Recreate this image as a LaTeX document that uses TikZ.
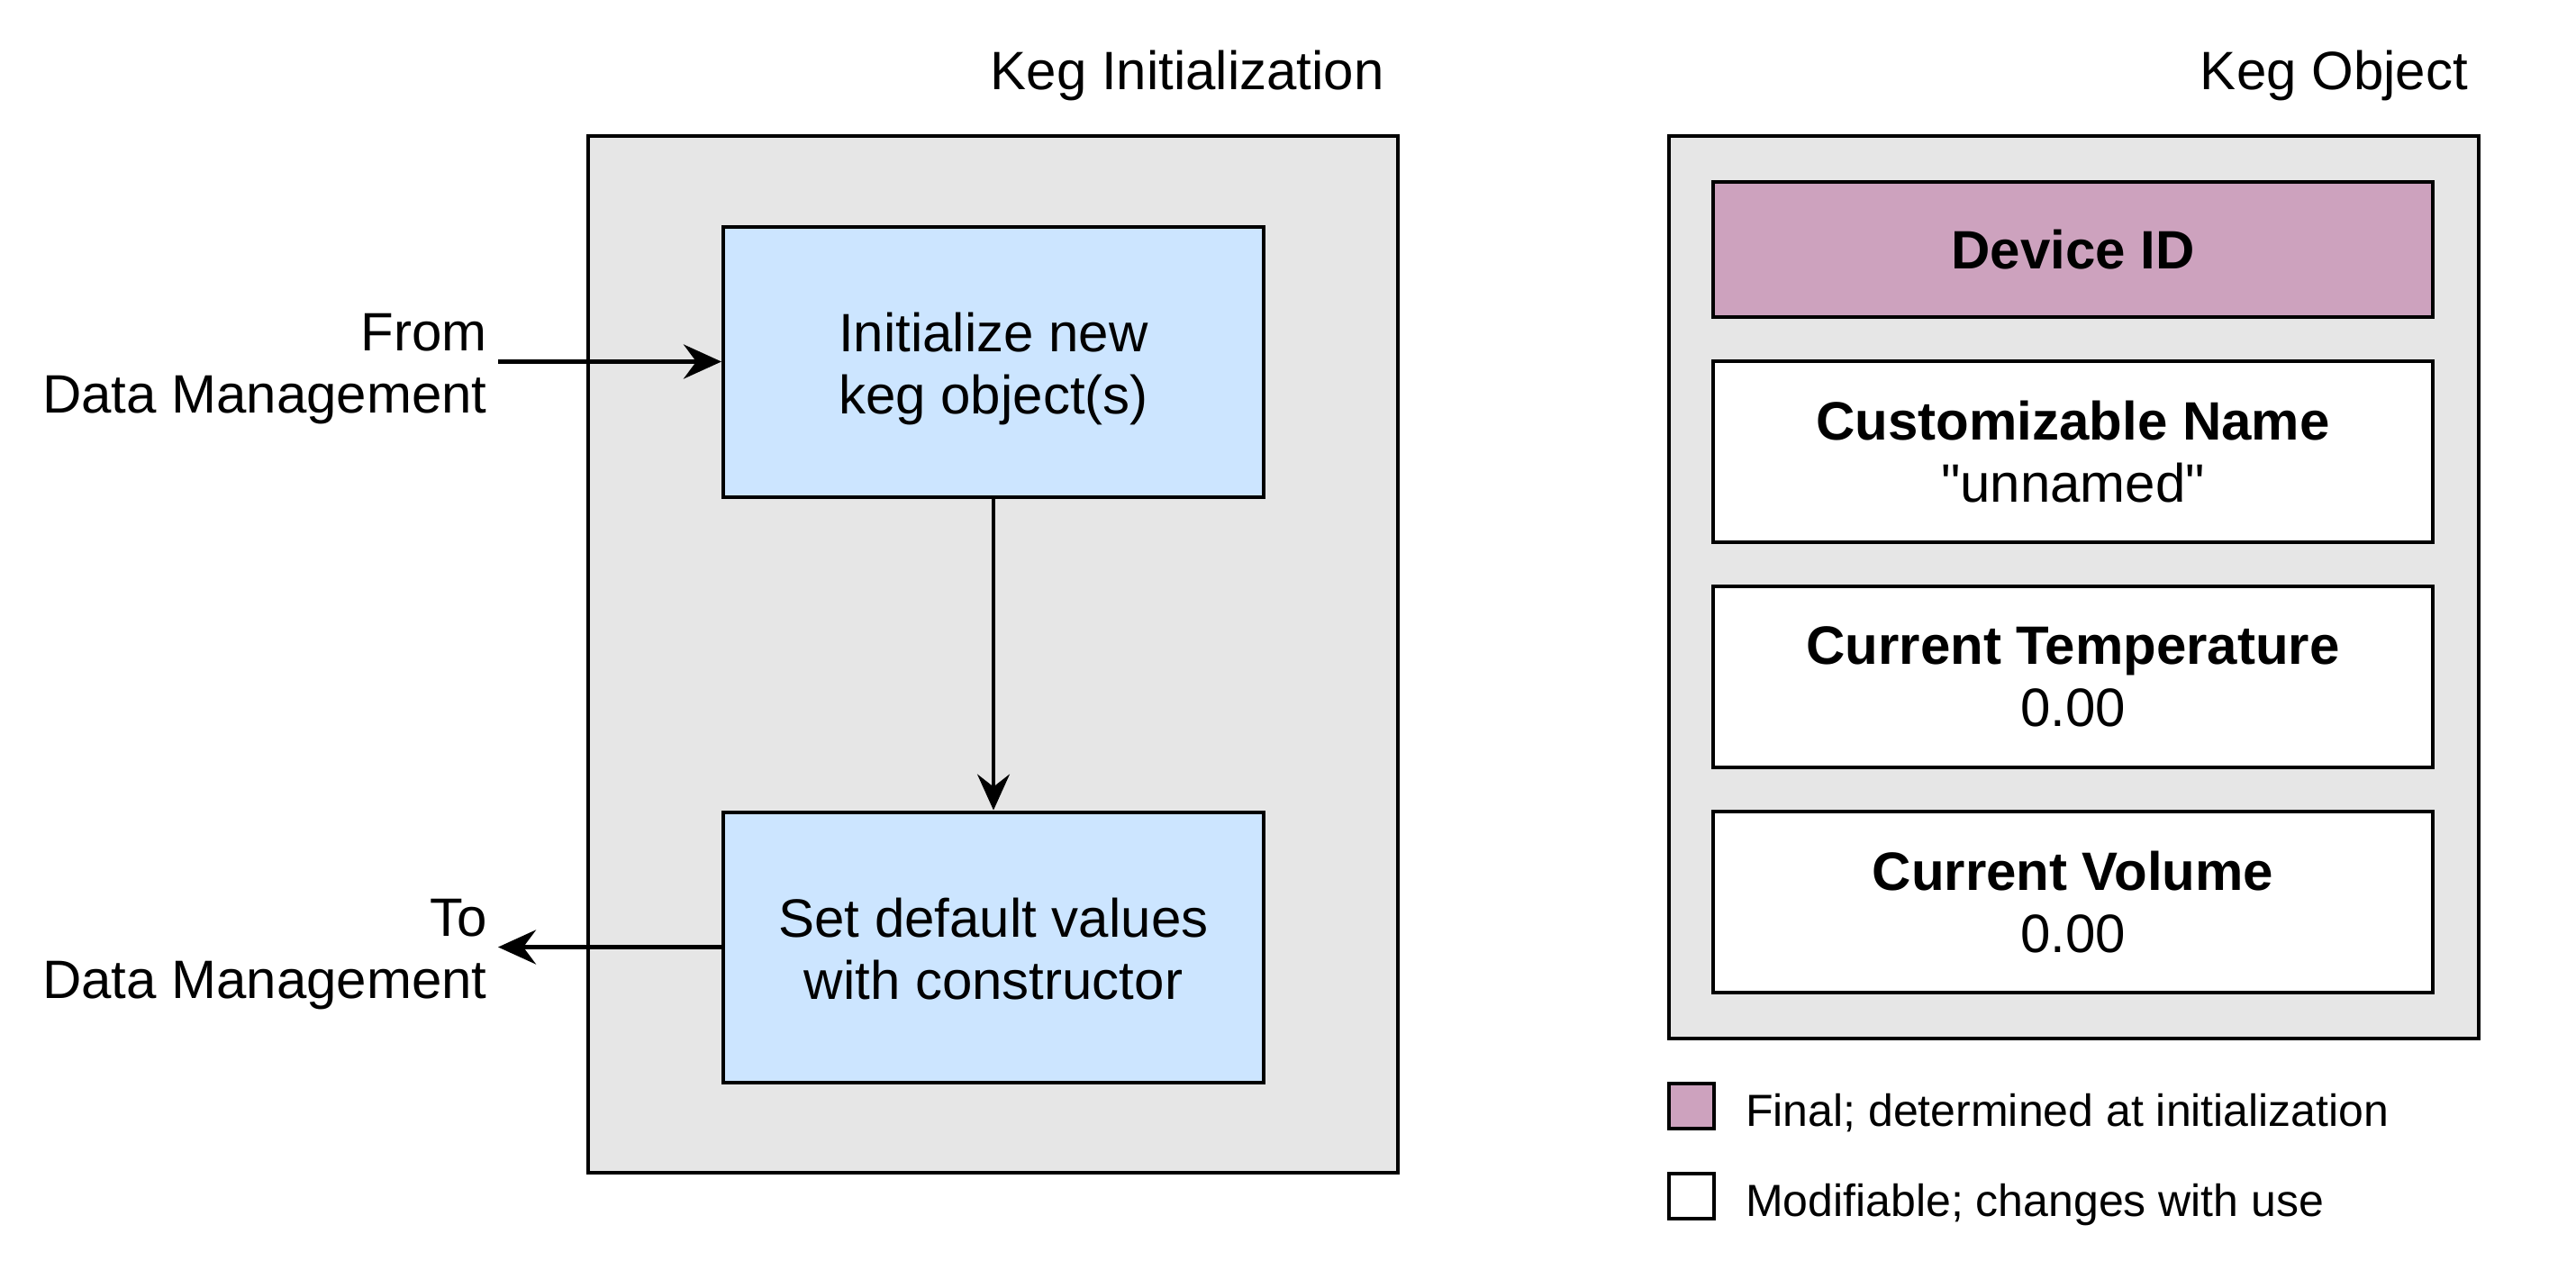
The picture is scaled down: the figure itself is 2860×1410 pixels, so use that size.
\documentclass[tikz,border=0pt]{standalone}
\usepackage{fontspec}
\setmainfont{Liberation Sans}
\newfontfamily\qfont{Liberation Sans}
\usetikzlibrary{arrows.meta}
\definecolor{panelgray}{HTML}{E6E6E6}
\definecolor{stepblue}{HTML}{CCE5FF}
\definecolor{finalpink}{HTML}{CDA2BE}
\tikzset{
  panel/.style={draw=black, fill=panelgray, line width=4pt, inner sep=0pt},
  stepbox/.style={draw=black, fill=stepblue, line width=4pt, inner sep=0pt, minimum width=600pt, minimum height=300pt, align=center, font=\fontsize{60}{69}\selectfont},
  field/.style={draw=black, fill=white, line width=4pt, inner sep=0pt, minimum width=799pt, minimum height=201pt, align=center, font=\fontsize{60}{69}\selectfont},
  lbl/.style={inner sep=0pt, font=\fontsize{60}{69}\selectfont},
  legtxt/.style={inner sep=0pt, anchor=base west, font=\fontsize{50}{60}\selectfont},
  legsq/.style={draw=black, line width=4pt, inner sep=0pt, minimum width=50pt, minimum height=50pt},
  arr/.style={line width=5pt, -{Stealth[length=42pt, width=38pt, inset=14pt]}},
  arrthin/.style={line width=3.5pt, -{Stealth[length=40pt, width=36pt, inset=14pt]}}
}
\newcommand{\lowered}[1]{\raisebox{-10pt}[\height][\depth]{\begin{tabular}{@{}c@{}}#1\end{tabular}}}
\begin{document}
\begin{tikzpicture}[x=1pt, y=-1pt]
\path[use as bounding box, fill=white] (0,0) rectangle (2860,1410);

% left panel
\node[panel, minimum width=899pt, minimum height=1151pt] (leftpanel) at (1102.5,726.5) {};
\node[lbl, anchor=base east] (titleL) at (1537,100) {Keg Initialization};
\node[stepbox] (init) at (1103,401.5) {\lowered{Initialize new\\keg object(s)}};
\node[stepbox] (setdef) at (1103,1051.5) {\lowered{Set default values\\with constructor}};
\node[lbl, align=right, anchor=east] (fromlbl) at (541,410) {From\\Data Management};
\node[lbl, align=right, anchor=east] (tolbl) at (541,1060) {To\\Data Management};
\coordinate (fromstart) at (553,401.5);
\coordinate (toend) at (553,1051.5);
\draw[arr] (fromstart) -- (init.west);
\draw[arrthin] (init.south) -- (setdef.north);
\draw[arr] (setdef.west) -- (toend);

% right panel
\node[panel, minimum width=899pt, minimum height=1002pt] (rightpanel) at (2302.5,652) {};
\node[lbl, anchor=base east] (titleR) at (2740,100) {Keg Object};
\node[field, fill=finalpink, minimum height=150pt] (devid) at (2301.5,277) {\textbf{Device ID}};
\node[field] (cname) at (2301.5,501.5) {\textbf{Customizable Name}\\{\qfont"unnamed"}};
\node[field] (ctemp) at (2301.5,751.5) {\textbf{Current Temperature}\\0.00};
\node[field] (cvol) at (2301.5,1001.5) {\textbf{Current Volume}\\0.00};

% legend
\node[legsq, fill=finalpink] (legfinal) at (1877.5,1227.5) {};
\node[legsq, fill=white] (legmod) at (1877.5,1327.5) {};
\node[legtxt] (legfinaltxt) at (1938,1250) {Final; determined at initialization};
\node[legtxt] (legmodtxt) at (1938,1350) {Modifiable; changes with use};
\end{tikzpicture}
\end{document}
